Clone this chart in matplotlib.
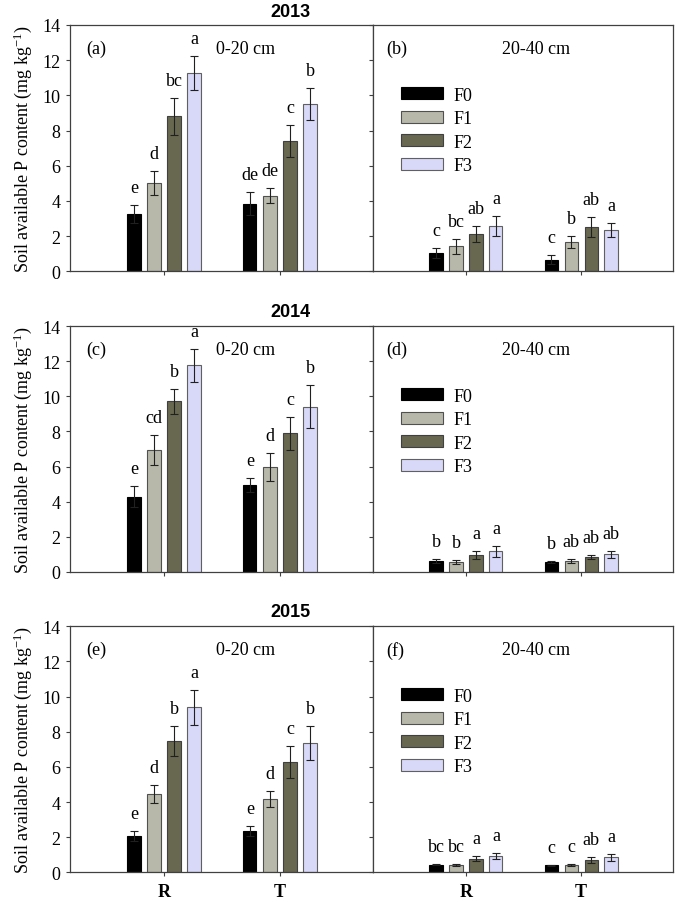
import matplotlib
matplotlib.use("Agg")
import matplotlib.pyplot as plt
from matplotlib.patches import Patch
import numpy as np

plt.rcParams['font.family'] = ['Liberation Serif', 'DejaVu Serif']
plt.rcParams['mathtext.default'] = 'regular'

groups = ['R', 'T']
treatments = ['F0', 'F1', 'F2', 'F3']
years = ['2013', '2014', '2015']
depths = ['0-20 cm', '20-40 cm']
panel_tags = [['(a)', '(b)'], ['(c)', '(d)'], ['(e)', '(f)']]

# means[group][treatment]
mean_a = [[3.26, 5.02, 8.81, 11.27], [3.84, 4.30, 7.42, 9.50]]
err_a = [[0.53, 0.70, 1.06, 0.95], [0.65, 0.42, 0.91, 0.92]]
let_a = [['e', 'd', 'bc', 'a'], ['de', 'de', 'c', 'b']]

mean_b = [[1.04, 1.42, 2.14, 2.58], [0.66, 1.65, 2.52, 2.35]]
err_b = [[0.27, 0.42, 0.45, 0.55], [0.25, 0.34, 0.55, 0.40]]
let_b = [['c', 'bc', 'ab', 'a'], ['c', 'b', 'ab', 'a']]

mean_c = [[4.28, 6.94, 9.72, 11.77], [4.95, 5.97, 7.89, 9.42]]
err_c = [[0.61, 0.84, 0.72, 0.93], [0.42, 0.80, 0.95, 1.24]]
let_c = [['e', 'cd', 'b', 'a'], ['e', 'd', 'c', 'b']]

mean_d = [[0.61, 0.57, 0.95, 1.16], [0.55, 0.61, 0.82, 0.99]]
err_d = [[0.09, 0.11, 0.23, 0.30], [0.08, 0.11, 0.11, 0.21]]
let_d = [['b', 'b', 'a', 'a'], ['b', 'ab', 'ab', 'ab']]

mean_e = [[2.07, 4.46, 7.46, 9.39], [2.35, 4.16, 6.30, 7.36]]
err_e = [[0.27, 0.53, 0.84, 0.99], [0.30, 0.46, 0.91, 0.99]]
let_e = [['e', 'd', 'b', 'a'], ['e', 'd', 'c', 'b']]

mean_f = [[0.44, 0.42, 0.78, 0.93], [0.40, 0.40, 0.68, 0.86]]
err_f = [[0.05, 0.06, 0.13, 0.15], [0.04, 0.06, 0.17, 0.19]]
let_f = [['bc', 'bc', 'a', 'a'], ['c', 'c', 'ab', 'a']]

yticks = [0, 2, 4, 6, 8, 10, 12, 14]

panels = [[(mean_a, err_a, let_a), (mean_b, err_b, let_b)],
          [(mean_c, err_c, let_c), (mean_d, err_d, let_d)],
          [(mean_e, err_e, let_e), (mean_f, err_f, let_f)]]

colors = ['#000000', '#B8B8AA', '#686850', '#D8D8F8']
edges = ['#000000', '#505050', '#404040', '#606060']
spine_c = '#404040'

fig = plt.figure(figsize=(6.75, 9.03), dpi=100)
W, H = 675.0, 903.0
rows_px = [(26.0, 272.3), (327.3, 572.7), (627.3, 873.3)]
cols_px = [(70.0, 372.7), (372.7, 673.3)]
title_y = [12.5, 312.5, 612.5]

gx = np.array([1.0, 2.0])
step = 0.173
bw = 0.115
offsets = (np.arange(4) - 1.5) * step

for r in range(3):
    top, bot = rows_px[r]
    for c in range(2):
        left, right = cols_px[c]
        ax = fig.add_axes([left / W, 1 - bot / H, (right - left) / W, (bot - top) / H])
        means, errs, lets = panels[r][c]
        for t in range(4):
            xs = gx + offsets[t]
            vals = [means[g][t] for g in range(2)]
            es = [errs[g][t] for g in range(2)]
            ax.bar(xs, vals, width=bw, color=colors[t], edgecolor=edges[t],
                   linewidth=0.8, zorder=2)
            ax.errorbar(xs, vals, yerr=es, fmt='none', ecolor='#202020',
                        elinewidth=0.8, capsize=3.2, capthick=0.8, zorder=3)
            for g in range(2):
                ax.annotate(lets[g][t], (xs[g], vals[g] + es[g]),
                            xytext=(0, 6.5), textcoords='offset points',
                            ha='center', va='bottom', fontsize=13)
        ax.set_xlim(0.19, 2.80)
        ax.set_ylim(0, 14)
        ax.set_xticks(gx)
        for s in ax.spines.values():
            s.set_color(spine_c)
            s.set_linewidth(0.9)
        ax.tick_params(axis='both', direction='out', length=3, width=0.8,
                       color=spine_c, labelsize=13)
        if r == 2:
            ax.set_xticklabels(groups, fontweight='bold', fontsize=13)
            ax.tick_params(axis='x', pad=5)
        else:
            ax.set_xticklabels([])
        ax.set_yticks(yticks)
        if c == 0:
            ax.set_yticklabels([str(v) for v in yticks])
            ax.tick_params(axis='y', pad=4)
            ax.set_ylabel('Soil available P content (mg kg$^{-1}$)', fontsize=13,
                          labelpad=6)
            ax.text(0.055, 0.905, panel_tags[r][c], transform=ax.transAxes,
                    fontsize=13, ha='left', va='center')
            ax.text(0.58, 0.905, depths[0], transform=ax.transAxes,
                    fontsize=13, ha='center', va='center')
        else:
            ax.set_yticklabels([])
            ax.text(0.045, 0.905, panel_tags[r][c], transform=ax.transAxes,
                    fontsize=13, ha='left', va='center')
            ax.text(0.545, 0.905, depths[1], transform=ax.transAxes,
                    fontsize=13, ha='center', va='center')
            handles = [Patch(facecolor=colors[t], edgecolor=edges[t], linewidth=0.8,
                             label=treatments[t]) for t in range(4)]
            ax.legend(handles=handles, loc='upper left', bbox_to_anchor=(0.095, 0.75),
                      frameon=False, fontsize=13, handlelength=2.3,
                      handleheight=0.65, handletextpad=0.6, labelspacing=0.36,
                      borderpad=0, borderaxespad=0)
    fig.text(290 / W, 1 - title_y[r] / H, years[r], ha='center', va='center',
             fontsize=13, fontweight='bold', family=['Liberation Sans', 'DejaVu Sans'])

fig.savefig('out.png', dpi=100)
